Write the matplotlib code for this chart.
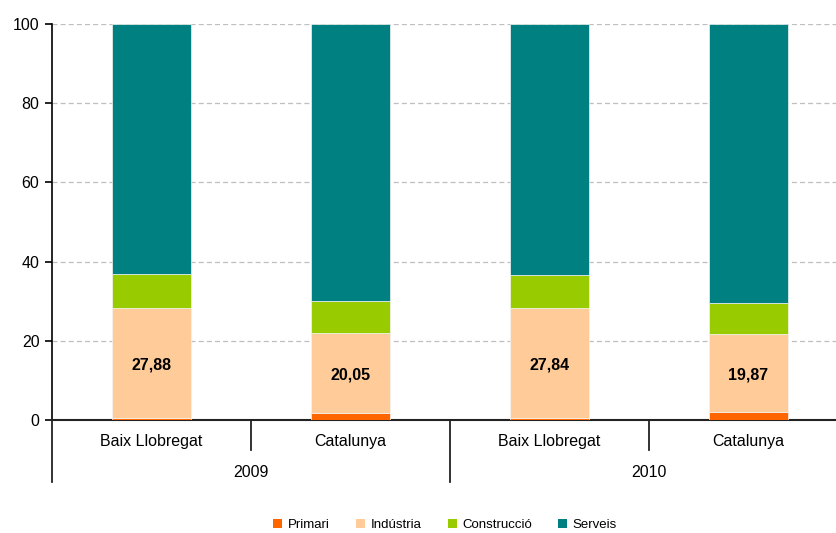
import numpy as np
import matplotlib.pyplot as plt
import matplotlib.transforms as mtransforms
from matplotlib.patches import Patch

plt.rcParams['font.family'] = ['Liberation Sans', 'DejaVu Sans']

# data
zones = ['Baix Llobregat', 'Catalunya', 'Baix Llobregat', 'Catalunya']
years = ['2009', '2010']
primari = [0.5, 1.8, 0.5, 1.9]
industria = [27.88, 20.05, 27.84, 19.87]
construccio = [8.6, 8.2, 8.2, 7.7]
serveis = [100 - p - i - c for p, i, c in zip(primari, industria, construccio)]
sectors = ['Primari', 'Indústria', 'Construcció', 'Serveis']
colors = ['#FF6600', '#FFCC99', '#99CC00', '#008080']

fig = plt.figure(figsize=(8.37, 5.33), dpi=100)
ax = fig.add_axes([52/837, 113/533, 796/837, 396/533])

x = np.arange(len(zones))
bottom = np.zeros(len(zones))
for vals, col in zip([primari, industria, construccio, serveis], colors):
    ax.bar(x, vals, width=0.4, bottom=bottom, color=col, edgecolor='#f4f4f4', linewidth=0.5, zorder=3)
    bottom += np.array(vals)

# value labels for Indústria
for xi, p, v in zip(x, primari, industria):
    ax.text(xi, p + v/2 - 0.5, ('%.2f' % v).replace('.', ','), ha='center', va='center',
            fontsize=11.5, fontweight='bold', zorder=4)

ax.set_xlim(-0.5, 3.5)
ax.set_ylim(0, 100)
ax.set_yticks(range(0, 101, 20))
ax.tick_params(axis='y', direction='out', length=5, width=1.2, labelsize=11.5, pad=4)
ax.tick_params(axis='x', length=0, labelbottom=False)
ax.yaxis.grid(True, linestyle='--', color='#bfbfbf', linewidth=0.9, dashes=(4, 2.5))
ax.set_axisbelow(True)
for s in ['top', 'right']:
    ax.spines[s].set_visible(False)
ax.spines['left'].set_linewidth(1.2)
ax.spines['bottom'].set_linewidth(1.5)
ax.spines['bottom'].set_color('#222222')

# hierarchical x axis
trans = mtransforms.blended_transform_factory(ax.transData, ax.transAxes)
for xs, low in [(-0.5, -0.157), (0.5, -0.076), (1.5, -0.157), (2.5, -0.076)]:
    ax.plot([xs, xs], [0, low], color='#222222', lw=1.3, transform=trans, clip_on=False)
for xi, z in zip(x, zones):
    ax.text(xi, -0.055, z, transform=trans, ha='center', va='center', fontsize=11.5)
for gi, yr in enumerate(years):
    ax.text(gi*2 + 0.5, -0.133, yr, transform=trans, ha='center', va='center', fontsize=11.5)

handles = [Patch(facecolor=c, edgecolor='none') for c in colors]
fig.legend(handles, sectors, loc='center', bbox_to_anchor=(445/837, 1 - 525/533), ncol=4,
           frameon=False, fontsize=9.5, handlelength=0.7, handleheight=0.7,
           handletextpad=0.4, columnspacing=2.0)

fig.savefig('out.png', dpi=100)
